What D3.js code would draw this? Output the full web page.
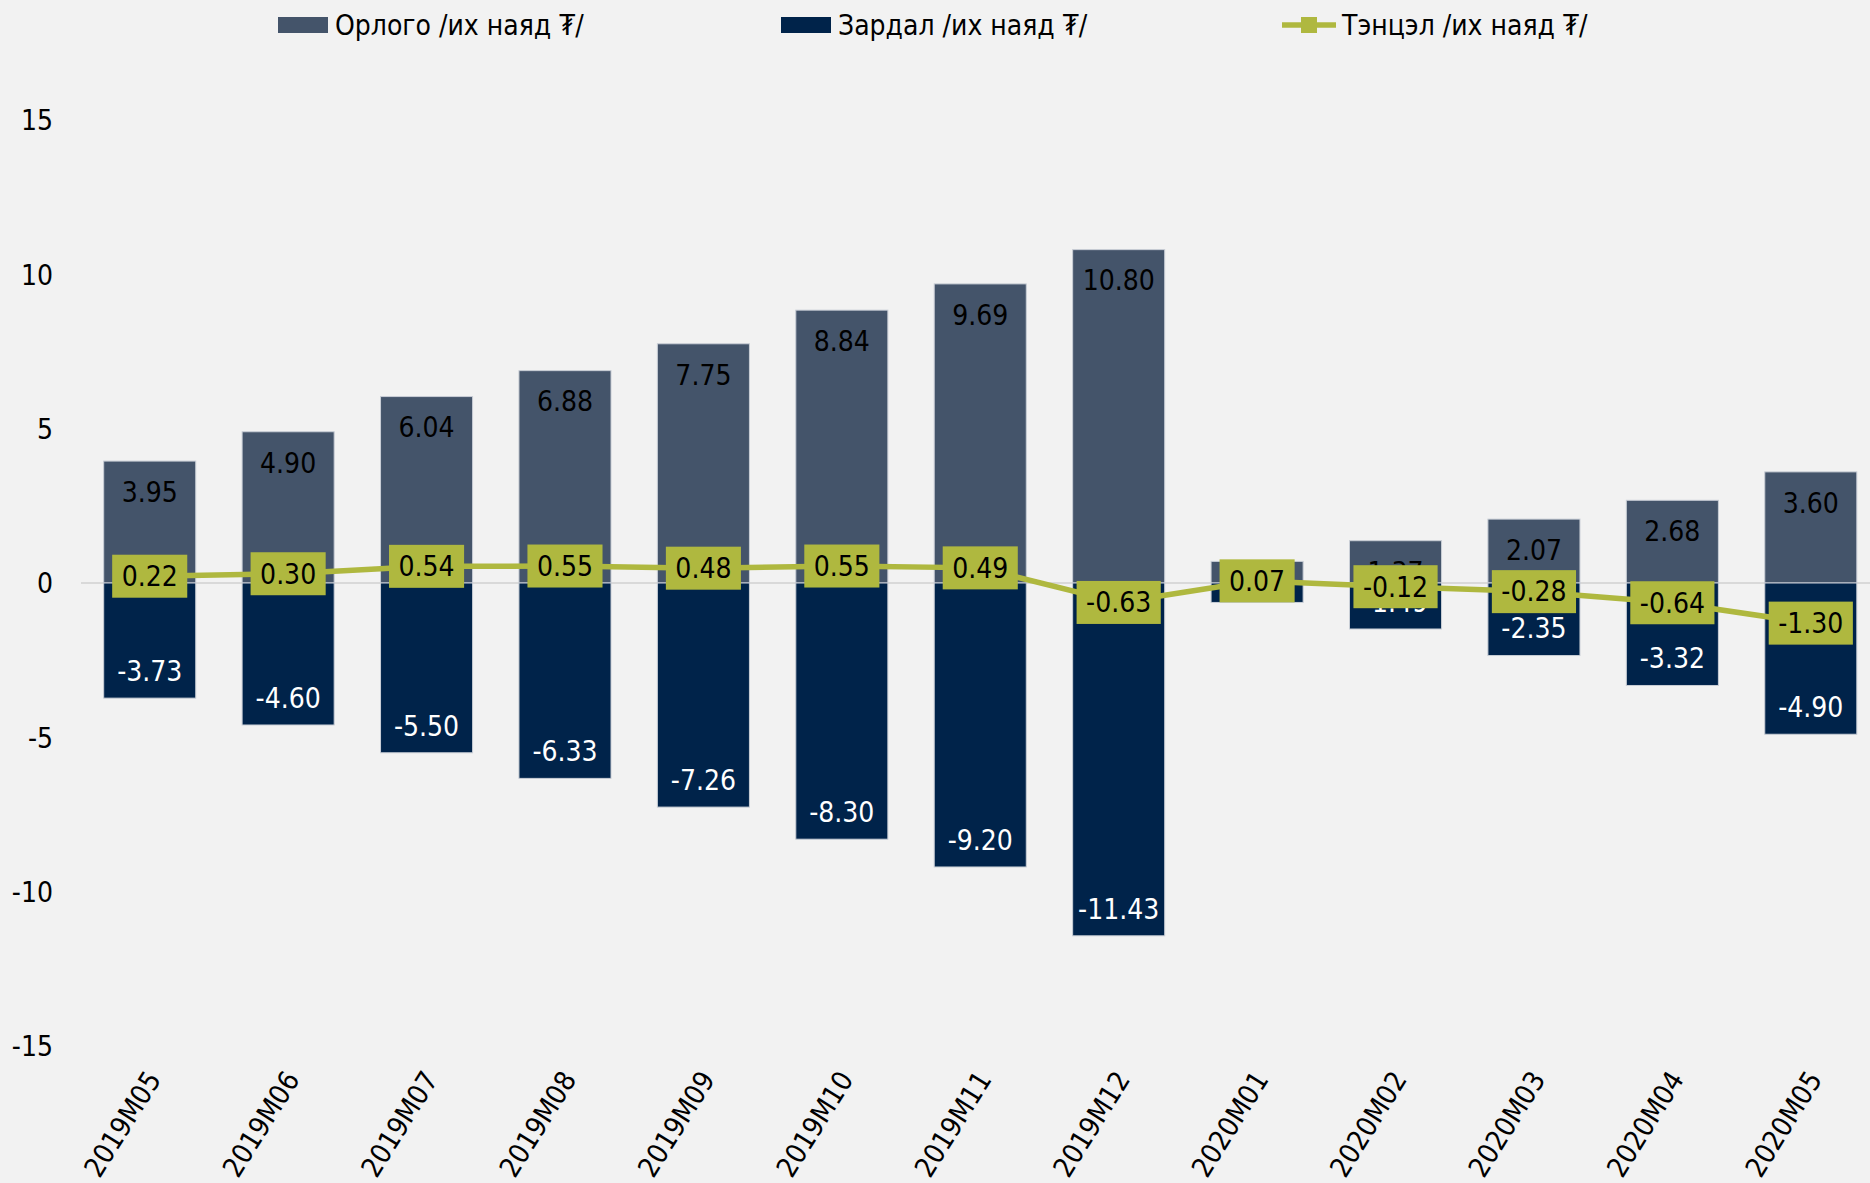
<!DOCTYPE html>
<html>
<head>
<meta charset="utf-8">
<script src="https://cdn.jsdelivr.net/npm/d3@7"></script>
<style>
  html, body { margin: 0; padding: 0; background: #F2F2F2; }
  svg { display: block; }
  text { font-family: 'DejaVu Sans Condensed', 'DejaVu Sans', sans-serif; font-stretch: condensed; }
</style>
</head>
<body>
<svg id="chart" width="1870" height="1183"></svg>
<script>
const categories = ["2019M05","2019M06","2019M07","2019M08","2019M09","2019M10","2019M11","2019M12","2020M01","2020M02","2020M03","2020M04","2020M05"];
const income  = [3.95, 4.90, 6.04, 6.88, 7.75, 8.84, 9.69, 10.80, 0.70, 1.37, 2.07, 2.68, 3.60];
const expense = [-3.73, -4.60, -5.50, -6.33, -7.26, -8.30, -9.20, -11.43, -0.63, -1.49, -2.35, -3.32, -4.90];
const balance = [0.22, 0.30, 0.54, 0.55, 0.48, 0.55, 0.49, -0.63, 0.07, -0.12, -0.28, -0.64, -1.30];
const yTicks = [-15, -10, -5, 0, 5, 10, 15];
const seriesNames = ["Орлого /их наяд ₮/", "Зардал /их наяд ₮/", "Тэнцэл /их наяд ₮/"];

const colIncome = "#44546A", colExpense = "#00234A", colLine = "#AFB83F";
const FS = 28;
const loc = d3.formatLocale({decimal: ".", thousands: ",", grouping: [3], currency: ["", ""], minus: "-"});
const fmt = loc.format(".2f");
const fmtInt = loc.format("d");

const svg = d3.select("#chart");
svg.append("rect").attr("width", 1870).attr("height", 1183).attr("fill", "#F2F2F2");

const x = d3.scaleBand().domain(categories).range([80.5, 1880]).paddingInner(0.335).paddingOuter(0.1675);
const y = d3.scaleLinear().domain([-15, 15]).range([1046, 120]);

// zero line
svg.append("line").attr("x1", 81).attr("x2", 1870).attr("y1", y(0)).attr("y2", y(0))
  .attr("stroke", "#D9D9D9").attr("stroke-width", 2);

// y axis
const yAxis = d3.axisLeft(y).tickValues(yTicks).tickSize(0).tickPadding(0).tickFormat(fmtInt);
const yg = svg.append("g").attr("transform", "translate(53,0)").call(yAxis);
yg.select(".domain").remove();
yg.selectAll("text").attr("font-size", FS).attr("fill", "#000").attr("dy", "0.35em")
  .style("font-family", "'DejaVu Sans Condensed', 'DejaVu Sans', sans-serif");

// x axis
const xAxis = d3.axisBottom(x).tickSize(0).tickPadding(0);
const xg = svg.append("g").attr("transform", "translate(0,1074)").call(xAxis);
xg.select(".domain").remove();
xg.selectAll("text")
  .attr("font-size", FS).attr("fill", "#000")
  .attr("text-anchor", "end")
  .attr("dy", "0.35em")
  .attr("transform", "translate(4,0) rotate(-58)")
  .style("font-family", "'DejaVu Sans Condensed', 'DejaVu Sans', sans-serif");

// bars
const bw = x.bandwidth();
svg.append("g").selectAll("rect").data(categories).join("rect")
  .attr("x", d => x(d)).attr("width", bw)
  .attr("y", (d, i) => y(income[i])).attr("height", (d, i) => y(0) - y(income[i]))
  .attr("fill", colIncome).attr("stroke", "#C9CED6").attr("stroke-width", 1);
svg.append("g").selectAll("rect").data(categories).join("rect")
  .attr("x", d => x(d)).attr("width", bw)
  .attr("y", y(0)).attr("height", (d, i) => y(expense[i]) - y(0))
  .attr("fill", colExpense).attr("stroke", "#C9CED6").attr("stroke-width", 1);

// bar labels
svg.append("g").selectAll("text").data(categories).join("text")
  .attr("x", d => x(d) + bw / 2).attr("y", (d, i) => y(income[i]) + 31)
  .attr("dy", "0.35em").attr("text-anchor", "middle").attr("font-size", FS).attr("fill", "#000")
  .text((d, i) => fmt(income[i]));
svg.append("g").selectAll("text").data(categories).join("text")
  .attr("x", d => x(d) + bw / 2).attr("y", (d, i) => y(expense[i]) - 27)
  .attr("dy", "0.35em").attr("text-anchor", "middle").attr("font-size", FS).attr("fill", "#fff")
  .text((d, i) => fmt(expense[i]));

// balance line
const line = d3.line().x((d, i) => x(categories[i]) + bw / 2).y(d => y(d));
svg.append("path").datum(balance).attr("d", line).attr("fill", "none")
  .attr("stroke", colLine).attr("stroke-width", 5.5).attr("stroke-linejoin", "round");

// balance labels (boxes)
const lg = svg.append("g").selectAll("g").data(categories).join("g")
  .attr("transform", (d, i) => `translate(${x(d) + bw / 2},${y(balance[i])})`);
lg.each(function(d, i) {
  const g = d3.select(this);
  const t = g.append("text").attr("text-anchor", "middle").attr("dy", "0.35em")
    .attr("font-size", FS).attr("fill", "#000").text(fmt(balance[i]));
  const w = t.node().getComputedTextLength() + 19;
  g.insert("rect", "text").attr("x", -w / 2).attr("y", -21.5).attr("width", w).attr("height", 43)
    .attr("fill", colLine);
});

// legend
const leg = svg.append("g");
leg.append("rect").attr("x", 278).attr("y", 17).attr("width", 50).attr("height", 16).attr("fill", colIncome);
leg.append("text").attr("x", 335).attr("y", 25).attr("dy", "0.35em").attr("font-size", FS).text(seriesNames[0]);
leg.append("rect").attr("x", 781).attr("y", 17).attr("width", 50).attr("height", 16).attr("fill", colExpense);
leg.append("text").attr("x", 838).attr("y", 25).attr("dy", "0.35em").attr("font-size", FS).text(seriesNames[1]);
leg.append("line").attr("x1", 1282).attr("x2", 1336).attr("y1", 25).attr("y2", 25).attr("stroke", colLine).attr("stroke-width", 5.5);
leg.append("rect").attr("x", 1301).attr("y", 17).attr("width", 16).attr("height", 16).attr("fill", colLine);
leg.append("text").attr("x", 1342).attr("y", 25).attr("dy", "0.35em").attr("font-size", FS).text(seriesNames[2]);
</script>
</body>
</html>
